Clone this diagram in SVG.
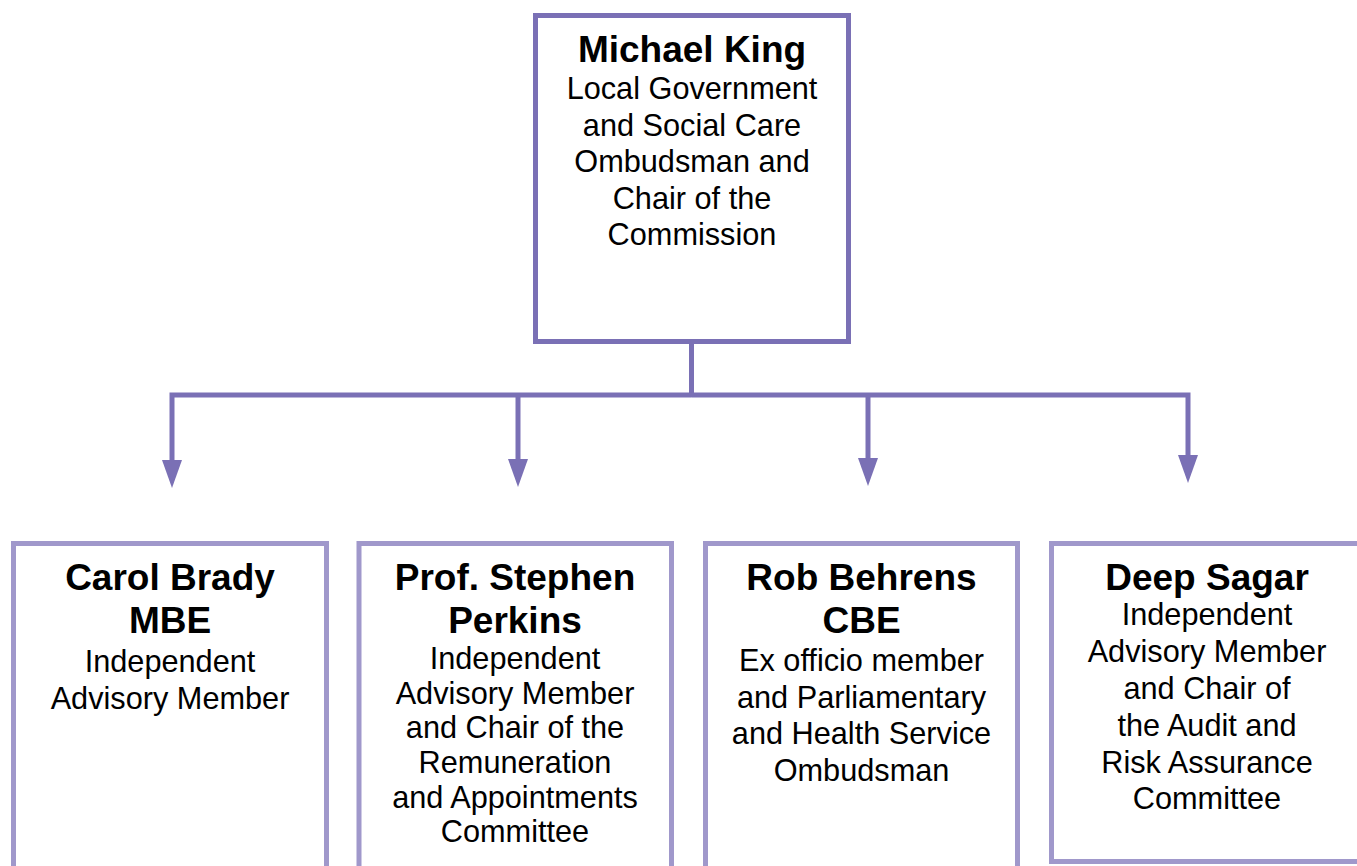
<svg xmlns="http://www.w3.org/2000/svg" width="1357" height="866" viewBox="0 0 1357 866">
<style>
.top{fill:#fff;stroke:#7a70b5;stroke-width:5}
.box{fill:#fff;stroke:#a098cb;stroke-width:5}
.con{fill:none;stroke:#7a70b5;stroke-width:5;stroke-linejoin:miter}
.n{font-family:"Liberation Sans",Arial,sans-serif;font-weight:bold;font-size:37px;fill:#000;text-anchor:middle}
.t{font-family:"Liberation Sans",Arial,sans-serif;font-size:30.7px;fill:#000;text-anchor:middle}
</style>
<defs>
<marker id="ah" markerUnits="userSpaceOnUse" viewBox="0 0 28 20" refX="0" refY="10" markerWidth="28" markerHeight="20" orient="auto">
<path d="M0,0 L28,10 L0,20 z" fill="#7a70b5"/>
</marker>
</defs>
<rect width="1357" height="866" fill="#fff"/>
<g id="connectors">
<path class="con" d="M691.5,343 V397"/>
<path class="con" d="M691.5,395 H172 V460" marker-end="url(#ah)"/>
<path class="con" d="M691.5,395 H1188 V455" marker-end="url(#ah)"/>
<path class="con" d="M518,395 V459" marker-end="url(#ah)"/>
<path class="con" d="M868,395 V458" marker-end="url(#ah)"/>
</g>
<g id="michael-king">
<rect class="top" x="535.5" y="15.5" width="313" height="326"/>
<text class="n" x="692" y="62">Michael King</text>
<text class="t" x="692" y="99">Local Government</text>
<text class="t" x="692" y="135.5">and Social Care</text>
<text class="t" x="692" y="172">Ombudsman and</text>
<text class="t" x="692" y="208.5">Chair of the</text>
<text class="t" x="692" y="245">Commission</text>
</g>
<g id="carol-brady">
<rect class="box" x="13.5" y="543.5" width="313" height="340"/>
<text class="n" x="170" y="590">Carol Brady</text>
<text class="n" x="170" y="633">MBE</text>
<text class="t" x="170" y="672">Independent</text>
<text class="t" x="170" y="709">Advisory Member</text>
</g>
<g id="stephen-perkins">
<rect class="box" x="359" y="543.5" width="312.5" height="340"/>
<text class="n" x="515" y="590">Prof. Stephen</text>
<text class="n" x="515" y="633">Perkins</text>
<text class="t" x="515" y="669">Independent</text>
<text class="t" x="515" y="704">Advisory Member</text>
<text class="t" x="515" y="738">and Chair of the</text>
<text class="t" x="515" y="773">Remuneration</text>
<text class="t" x="515" y="807.5">and Appointments</text>
<text class="t" x="515" y="841.5">Committee</text>
</g>
<g id="rob-behrens">
<rect class="box" x="705.5" y="543.5" width="312" height="340"/>
<text class="n" x="861.5" y="590">Rob Behrens</text>
<text class="n" x="861.5" y="633">CBE</text>
<text class="t" x="861.5" y="671">Ex officio member</text>
<text class="t" x="861.5" y="708">and Parliamentary</text>
<text class="t" x="861.5" y="744">and Health Service</text>
<text class="t" x="861.5" y="781">Ombudsman</text>
</g>
<g id="deep-sagar">
<rect class="box" x="1051.5" y="543.5" width="311" height="318"/>
<text class="n" x="1207" y="590">Deep Sagar</text>
<text class="t" x="1207" y="625">Independent</text>
<text class="t" x="1207" y="662">Advisory Member</text>
<text class="t" x="1207" y="699">and Chair of</text>
<text class="t" x="1207" y="736">the Audit and</text>
<text class="t" x="1207" y="773">Risk Assurance</text>
<text class="t" x="1207" y="809">Committee</text>
</g>
</svg>
